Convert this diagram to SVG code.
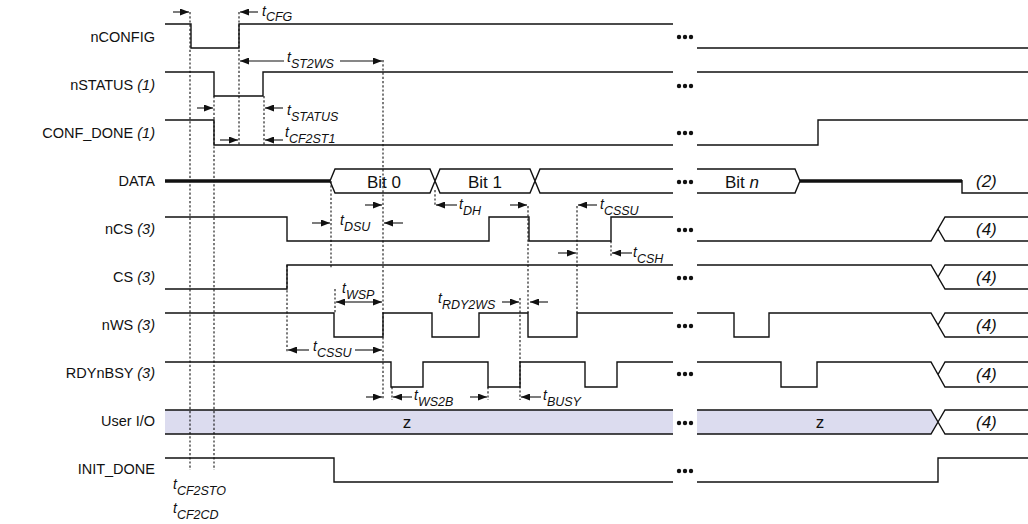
<svg xmlns="http://www.w3.org/2000/svg" width="1028" height="524" viewBox="0 0 1028 524">
<style>
.bg{fill:#ffffff}
.sig{fill:none;stroke:#111;stroke-width:1.4}
.thick{fill:none;stroke:#111;stroke-width:3.4}
.fillz{fill:#dcdcef;stroke:none}
.dot{fill:none;stroke:#111;stroke-width:1.1;stroke-dasharray:2.2,2}
.arr{fill:none;stroke:#111;stroke-width:1.1;marker-end:url(#ah)}
.lbl{font-family:"Liberation Sans",Arial,sans-serif;font-size:14.5px;fill:#111;text-anchor:end}
.it{font-style:italic}
.bus{font-family:"Liberation Sans",Arial,sans-serif;font-size:17px;fill:#111;text-anchor:middle}
.note{font-family:"Liberation Sans",Arial,sans-serif;font-size:17px;fill:#111;font-style:italic}
.t{font-family:"Liberation Sans",Arial,sans-serif;font-size:14px;fill:#111;font-style:italic}
.sub{font-size:12.5px}
.el{fill:#111}
</style>
<defs>
<marker id="ah" markerUnits="userSpaceOnUse" markerWidth="9" markerHeight="7" refX="9" refY="3.5" orient="auto">
<path d="M0,0 L9,3.5 L0,7 z" fill="#111"/>
</marker>
<g id="ellipsis">
<circle cx="-6" cy="0" r="2.2" class="el"/>
<circle cx="0" cy="0" r="2.2" class="el"/>
<circle cx="6" cy="0" r="2.2" class="el"/>
</g>
</defs>
<rect class="bg" x="0" y="0" width="1028" height="524"/>

<g id="sig-nCONFIG">
<text class="lbl" x="155" y="42">nCONFIG</text>
<path class="sig" d="M165,24 H191 V48 H239 V24 H673 M697,48 H1028"/>
<use href="#ellipsis" x="685" y="37"/>
</g>
<g id="sig-nSTATUS">
<text class="lbl" x="155" y="90">nSTATUS <tspan class="it">(1)</tspan></text>
<path class="sig" d="M165,72 H214 V96 H263 V72 H673 M697,72 H1028"/>
<use href="#ellipsis" x="685" y="86"/>
</g>
<g id="sig-CONF_DONE">
<text class="lbl" x="155" y="138">CONF_DONE <tspan class="it">(1)</tspan></text>
<path class="sig" d="M165,120 H214 V145 H673 M697,145 H818 V120 H1028"/>
<use href="#ellipsis" x="685" y="133"/>
</g>
<g id="sig-DATA">
<text class="lbl" x="155" y="186">DATA</text>
<path class="thick" d="M165,181 H330"/>
<path class="sig" d="M330,181 L335,169 H430 L440,193 H530 L540,169 H673 M330,181 L335,193 H430 L440,169 H530 L540,193 H673"/>
<text class="bus" x="384" y="188">Bit 0</text>
<text class="bus" x="485" y="188">Bit 1</text>
<path class="sig" d="M697,169 H795 L800,181 L795,193 H697"/>
<text class="bus" x="742" y="188">Bit <tspan class="it">n</tspan></text>
<path class="thick" d="M800,181 H962"/>
<path class="sig" d="M962,180 V193 H1028"/>
<text class="note" x="976" y="187">(2)</text>
<use href="#ellipsis" x="685" y="182"/>
</g>
<g id="sig-nCS">
<text class="lbl" x="155" y="234">nCS <tspan class="it">(3)</tspan></text>
<path class="sig" d="M165,217 H287 V241 H489 V217 H529 V241 H611 V217 H673 M697,241 H931 L945,217 H1028 M938,229 L945,241 H1028"/>
<text class="note" x="976" y="235">(4)</text>
<use href="#ellipsis" x="685" y="230"/>
</g>
<g id="sig-CS">
<text class="lbl" x="155" y="282">CS <tspan class="it">(3)</tspan></text>
<path class="sig" d="M165,289 H287 V265 H673 M697,265 H931 L945,289 H1028 M938,277 L945,265 H1028"/>
<text class="note" x="976" y="283">(4)</text>
<use href="#ellipsis" x="685" y="278"/>
</g>
<g id="sig-nWS">
<text class="lbl" x="155" y="330">nWS <tspan class="it">(3)</tspan></text>
<path class="sig" d="M165,313 H334 V337 H383 V313 H432 V337 H479 V313 H528 V337 H577 V313 H673 M697,313 H734 V337 H769 V313 H931 L945,337 H1028 M938,325 L945,313 H1028"/>
<text class="note" x="976" y="331">(4)</text>
<use href="#ellipsis" x="685" y="326"/>
</g>
<g id="sig-RDYnBSY">
<text class="lbl" x="155" y="378">RDYnBSY <tspan class="it">(3)</tspan></text>
<path class="sig" d="M165,362 H391 V387 H423 V362 H488 V387 H520 V362 H585 V387 H617 V362 H673 M697,362 H781 V387 H817 V362 H931 L945,387 H1028 M938,374.5 L945,362 H1028"/>
<text class="note" x="976" y="380">(4)</text>
<use href="#ellipsis" x="685" y="374"/>
</g>
<g id="sig-UserIO">
<text class="lbl" x="155" y="426">User I/O</text>
<rect class="fillz" x="165" y="410" width="508" height="24"/>
<path class="sig" d="M165,410 H673 M165,434 H673"/>
<text class="bus" x="407" y="428">z</text>
<path class="fillz" d="M697,410 H931 L938,422 L931,434 H697 z"/>
<path class="sig" d="M697,410 H931 L938,422 L931,434 H697 M938,422 L945,410 H1028 M938,422 L945,434 H1028"/>
<text class="bus" x="820" y="428">z</text>
<text class="note" x="976" y="428">(4)</text>
<use href="#ellipsis" x="685" y="423"/>
</g>
<g id="sig-INIT_DONE">
<text class="lbl" x="155" y="474">INIT_DONE</text>
<path class="sig" d="M165,458 H334 V482 H673 M697,482 H938 V458 H1028"/>
<use href="#ellipsis" x="685" y="471"/>
</g>

<g id="connectors">
<path class="dot" d="M190,12 V470 M214,96 V470 M239,12 V145 M264,96 V145 M383,60 V400 M331,181 V268 M435,190 V206 M528,206 V313 M577,206 V313 M611,241 V256 M287,265 V352 M335,289 V313 M392,387 V400 M488,387 V400 M520,298 V400"/>
<path class="arr" d="M173,12 H189"/>
<path class="arr" d="M258,12 H240"/>
<path class="arr" d="M284,61 H240"/>
<path class="arr" d="M340,61 H382"/>
<path class="arr" d="M197,108 H213"/>
<path class="arr" d="M283,108 H265"/>
<path class="arr" d="M220,140 H238"/>
<path class="arr" d="M283,140 H265"/>
<path class="arr" d="M365,205 H382"/>
<path class="arr" d="M312,223 H330"/>
<path class="arr" d="M403,223 H384"/>
<path class="arr" d="M457,205 H436"/>
<path class="arr" d="M510,205 H527"/>
<path class="arr" d="M597,205 H578"/>
<path class="arr" d="M558,253 H576"/>
<path class="arr" d="M632,253 H612"/>
<path class="arr" d="M358,302 H336"/>
<path class="arr" d="M358,302 H382"/>
<path class="arr" d="M309,350 H288"/>
<path class="arr" d="M355,350 H382"/>
<path class="arr" d="M502,302 H519"/>
<path class="arr" d="M548,302 H530"/>
<path class="arr" d="M366,397 H382"/>
<path class="arr" d="M412,397 H393"/>
<path class="arr" d="M470,397 H487"/>
<path class="arr" d="M541,397 H521"/>
</g>

<g id="timing-labels">
<text class="t" x="262" y="16">t<tspan class="sub" dy="5">CFG</tspan></text>
<text class="t" x="287" y="62">t<tspan class="sub" dy="6">ST2WS</tspan></text>
<text class="t" x="287" y="115">t<tspan class="sub" dy="6">STATUS</tspan></text>
<text class="t" x="285" y="137">t<tspan class="sub" dy="6">CF2ST1</tspan></text>
<text class="t" x="340" y="225">t<tspan class="sub" dy="6">DSU</tspan></text>
<text class="t" x="459" y="209">t<tspan class="sub" dy="6">DH</tspan></text>
<text class="t" x="600" y="209">t<tspan class="sub" dy="6">CSSU</tspan></text>
<text class="t" x="633" y="257">t<tspan class="sub" dy="6">CSH</tspan></text>
<text class="t" x="342" y="293">t<tspan class="sub" dy="6">WSP</tspan></text>
<text class="t" x="313" y="351">t<tspan class="sub" dy="6">CSSU</tspan></text>
<text class="t" x="438" y="303">t<tspan class="sub" dy="6">RDY2WS</tspan></text>
<text class="t" x="414" y="400">t<tspan class="sub" dy="6">WS2B</tspan></text>
<text class="t" x="543" y="400">t<tspan class="sub" dy="6">BUSY</tspan></text>
<text class="t" x="173" y="489">t<tspan class="sub" dy="6">CF2STO</tspan></text>
<text class="t" x="173" y="513">t<tspan class="sub" dy="6">CF2CD</tspan></text>
</g>
</svg>
